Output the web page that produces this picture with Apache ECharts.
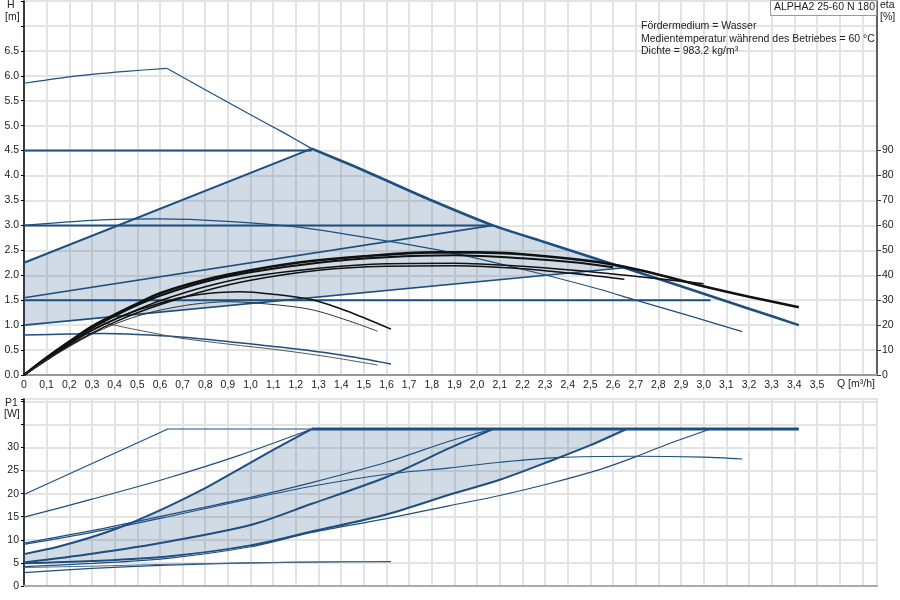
<!DOCTYPE html>
<html>
<head>
<meta charset="utf-8">
<script src="https://cdn.jsdelivr.net/npm/echarts@6/dist/echarts.min.js"></script>
<style>
html,body{margin:0;padding:0;background:#fff;}
#chart{width:900px;height:600px;}
</style>
</head>
<body>
<div id="chart"></div>
<script>
// ---------- DATA (Q in m³/h, H in m, eta in %, P1 in W) ----------
const qMax = 3.765;
const hMax = 7.5;
const etaMax = 150;
const pMax = 40.5;

const etaTickValues = [0,10,20,30,40,50,60,70,80,90];

// H curves
const maxRise  = [[0,5.85],[0.15,5.95],[0.3,6.03],[0.45,6.09],[0.63,6.15]];
const maxFall  = [[0.63,6.15],[0.8,5.72],[1.0,5.22],[1.15,4.85],[1.27,4.54]];
const maxCurveThick = [[1.27,4.54],[1.45,4.2],[1.6,3.9],[1.8,3.5],[2.07,3.0],[2.3,2.66],[2.6,2.22],[2.65,2.15],[2.9,1.78],[3.2,1.33],[3.42,1.0]];
const cp45 = [[0,4.5],[1.27,4.5]];
const cp30 = [[0,3.0],[2.07,3.0]];
const cp15 = [[0,1.5],[3.03,1.5]];
const pp1  = [[0,2.25],[1.27,4.54]];
const pp2  = [[0,1.55],[2.07,3.0]];
const pp3  = [[0,1.0],[2.65,2.15]];
const curveIII = [[0,3.0],[0.3,3.1],[0.6,3.13],[0.9,3.08],[1.22,2.96],[1.61,2.68],[1.87,2.47],[2.2,2.12],[2.54,1.72],[2.7,1.5],[2.95,1.17],[3.17,0.87]];
const lowCurveA = [[0,0.8],[0.2,0.82],[0.35,0.83],[0.5,0.81],[0.69,0.76],[0.9,0.67],[1.13,0.56],[1.4,0.4],[1.62,0.22]];
const lowCurveB = [[0.33,1.07],[0.45,0.95],[0.55,0.86],[0.69,0.74],[0.9,0.62],[1.13,0.5],[1.35,0.36],[1.56,0.2]];

// eta curves (%)
const eta1 = [[0,0],[0.1,7],[0.2,13.4],[0.3,19.5],[0.4,24.2],[0.5,28.6],[0.6,32.8],[0.8,38.2],[1.0,42],[1.22,45.2],[1.5,47.6],[1.8,49.2],[2.0,49.2],[2.2,48.4],[2.54,45.2],[2.75,41.4],[2.98,36],[3.2,31.4],[3.42,27.2]];
const eta2 = [[0,0],[0.1,6.8],[0.2,13],[0.3,18.8],[0.4,23.6],[0.5,28],[0.6,31.8],[0.8,37.4],[1.0,41.2],[1.3,45],[1.6,47.2],[1.9,48],[2.2,46.8],[2.45,45],[2.6,43.2]];
const eta3 = [[0,0],[0.1,6.4],[0.2,12.4],[0.3,17.8],[0.4,22.2],[0.5,26.2],[0.6,29.8],[0.8,35.4],[1.0,39.4],[1.3,42.8],[1.6,44.6],[1.9,44.8],[2.2,43.6],[2.5,41.4],[2.8,38.6],[3.0,36.6]];
const eta4 = [[0,0],[0.1,6.0],[0.2,11.8],[0.3,16.8],[0.4,21.2],[0.5,25],[0.6,28.2],[0.8,33.8],[1.0,38],[1.3,42],[1.6,43.6],[1.9,43.8],[2.2,42.6],[2.5,40],[2.65,38.4]];
const etaArc1 = [[0,0],[0.1,6.4],[0.2,12.4],[0.3,18],[0.4,22.4],[0.5,26],[0.6,28.8],[0.7,31.2],[0.8,32.6],[0.95,33.4],[1.1,32.4],[1.28,30],[1.45,24.8],[1.62,18.4]];
const etaArc2 = [[0,0],[0.1,6],[0.2,11.4],[0.3,16.4],[0.4,20.4],[0.5,23.6],[0.6,26],[0.75,28.4],[0.9,29.4],[1.13,28],[1.28,26],[1.45,21.2],[1.56,17.6]];

// P1 curves (W)
const p1MaxA = [[0,19.8],[0.635,34],[1.27,34]];
const p1Flat = [[1.27,34],[3.42,34]];
const p1B = [[0,14.9],[0.3,18.8],[0.635,23.4],[0.95,28.3],[1.27,34]];
const p1C = [[0,6.9],[0.15,8.5],[0.3,10.6],[0.45,13.2],[0.635,17.2],[0.8,21.2],[0.92,24.5],[1.1,29.5],[1.27,34]];
const p1D = [[0,9.3],[0.3,12],[0.635,15.4],[1.0,19.2],[1.27,22.4],[1.6,26.8],[1.88,31.4],[2.07,34]];
const p1E = [[0,9.0],[0.3,11.6],[0.635,15],[1.0,18.9],[1.27,21.6],[1.6,24.2],[1.88,25.6],[2.1,26.8],[2.35,27.8],[2.7,28.1],[3.0,27.9],[3.17,27.5]];
const p1F = [[0,5.1],[0.3,7.0],[0.635,9.6],[1.0,13.2],[1.27,17.8],[1.6,23.6],[1.88,29.9],[2.07,34]];
const p1G = [[0,4.9],[0.3,5.4],[0.635,6.4],[1.0,8.8],[1.27,11.8],[1.6,15.5],[1.88,19.8],[2.1,23],[2.34,27.4],[2.5,30.5],[2.66,34]];
const p1H = [[0,4.2],[0.3,4.9],[0.635,6.0],[1.0,8.5],[1.27,11.6],[1.6,14.6],[1.88,17.4],[2.1,19.6],[2.32,22.2],[2.54,25.2],[2.69,27.8],[2.84,30.7],[3.03,34]];
const p1Low1 = [[0,2.9],[0.3,3.8],[0.635,4.5],[1.0,5.0],[1.3,5.2],[1.62,5.3]];
const p1Low2 = [[0,4.0],[0.3,4.3],[0.635,4.7],[1.0,5.0],[1.3,5.2],[1.56,5.3]];

// shaded operating ranges, built from the curves above
const shadeTop = [pp1[0]].concat(maxCurveThick.filter(p => p[0] <= 2.65), [pp3[0]]);
const shadeBottom = p1C.concat([[2.66,34]], p1G.slice().reverse());

// ---------- STYLE ----------
const BLUE = '#1e4f80';
const BLACK = '#111111';
const GRID = '#e3e3e3';
const FONT = "'Liberation Sans', Arial, sans-serif";
const FS = 10.5;
const TXT = '#222';

function line(data, opts) {
  return {
    type: 'line',
    data: data,
    xAxisIndex: opts.x || 0,
    yAxisIndex: opts.y || 0,
    showSymbol: false,
    symbol: 'none',
    smooth: opts.smooth === undefined ? 0.3 : opts.smooth,
    silent: true,
    z: opts.z || 5,
    lineStyle: { color: opts.color || BLUE, width: opts.width || 1.2 }
  };
}

function shade(data, xi, yi) {
  return {
    type: 'custom',
    xAxisIndex: xi, yAxisIndex: yi,
    data: data,
    silent: true,
    z: 1,
    renderItem: function (params, api) {
      if (params.dataIndex !== 0) return null;
      const pts = data.map(p => api.coord(p));
      return { type: 'polygon', shape: { points: pts }, style: { fill: 'rgba(40,90,140,0.22)' } };
    }
  };
}

const chart = echarts.init(document.getElementById('chart'), null, { renderer: 'canvas' });

const fmtQ = v => (v === 0 ? '0' : (v > 3.55 ? '' : v.toFixed(1).replace('.', ',')));
const font = FS + 'px ' + FONT;

const option = {
  animation: false,
  textStyle: { fontFamily: FONT },
  grid: [
    { left: 24, right: 23, top: 1, height: 374, show: true, borderColor: '#b5b5b5', borderWidth: 1 },
    { left: 24, right: 23, top: 399, height: 187, show: true, borderColor: '#b5b5b5', borderWidth: 1.5 }
  ],
  xAxis: [
    { type: 'value', gridIndex: 0, min: 0, max: qMax, interval: 0.1,
      axisLine: { show: true, onZero: false, lineStyle: { color: '#999', width: 2 } },
      axisTick: { show: false },
      axisLabel: { formatter: fmtQ, fontSize: FS, color: TXT, margin: 5, fontFamily: FONT, hideOverlap: false },
      splitLine: { show: true, lineStyle: { color: GRID, width: 2 } } },
    { type: 'value', gridIndex: 1, min: 0, max: qMax, interval: 0.1,
      axisLine: { show: true, onZero: false, lineStyle: { color: '#aaa', width: 2 } },
      axisTick: { show: false },
      axisLabel: { show: false },
      splitLine: { show: true, lineStyle: { color: GRID, width: 2 } } }
  ],
  yAxis: [
    { type: 'value', gridIndex: 0, min: 0, max: hMax, interval: 0.5,
      axisLine: { show: true, onZero: false, lineStyle: { color: '#000', width: 1.5 } },
      axisTick: { show: true, length: 3, lineStyle: { color: '#000' } },
      axisLabel: { formatter: v => (v > 6.6 ? '' : v.toFixed(1)), fontSize: FS, color: TXT, margin: 5, fontFamily: FONT },
      splitLine: { show: true, lineStyle: { color: GRID, width: 2 } } },
    { type: 'value', gridIndex: 0, position: 'right', min: 0, max: etaMax, interval: 10,
      axisLine: { show: true, onZero: false, lineStyle: { color: '#333', width: 1.5 } },
      axisTick: { show: true, length: 4, customValues: etaTickValues, lineStyle: { color: '#333' } },
      axisLabel: { customValues: etaTickValues, formatter: v => (v > 95 ? '' : String(v)), fontSize: FS, color: TXT, margin: 5, fontFamily: FONT },
      splitLine: { show: false } },
    { type: 'value', gridIndex: 1, min: 0, max: pMax, interval: 5,
      axisLine: { show: true, onZero: false, lineStyle: { color: '#000', width: 1.5 } },
      axisTick: { show: true, length: 3, lineStyle: { color: '#000' } },
      axisLabel: { formatter: v => (v > 32 ? '' : String(v)), fontSize: FS, color: TXT, margin: 5, fontFamily: FONT },
      splitLine: { show: true, lineStyle: { color: GRID, width: 2 } } }
  ],
  series: [
    shade(shadeTop, 0, 0),
    shade(shadeBottom, 1, 2),
    // top: H curves
    line(maxRise, { width: 1.2 }),
    line(maxFall, { width: 1.2, smooth: 0.15 }),
    line(maxCurveThick, { width: 2.6, smooth: 0.2 }),
    line(cp45, { width: 2, smooth: false }),
    line(cp30, { width: 2, smooth: false }),
    line(cp15, { width: 2, smooth: false }),
    line(pp1, { width: 2, smooth: false }),
    line(pp2, { width: 1.6, smooth: false }),
    line(pp3, { width: 1.6, smooth: false }),
    line(curveIII, { width: 1.2 }),
    line(lowCurveA, { width: 1.5 }),
    line(lowCurveB, { width: 1, color: '#555' }),
    // eta curves
    line(eta1, { y: 1, width: 2.6, color: BLACK, z: 6 }),
    line(eta2, { y: 1, width: 2, color: BLACK, z: 6 }),
    line(eta3, { y: 1, width: 1.6, color: BLACK, z: 6 }),
    line(eta4, { y: 1, width: 1.6, color: BLACK, z: 6 }),
    line(etaArc1, { y: 1, width: 1.6, color: BLACK, z: 6 }),
    line(etaArc2, { y: 1, width: 1, color: '#333', z: 6 }),
    // bottom: P1 curves
    line(p1MaxA, { x: 1, y: 2, width: 1.2, smooth: false }),
    line(p1Flat, { x: 1, y: 2, width: 3, smooth: false }),
    line(p1B, { x: 1, y: 2, width: 1.2 }),
    line(p1C, { x: 1, y: 2, width: 2 }),
    line(p1D, { x: 1, y: 2, width: 1.2 }),
    line(p1E, { x: 1, y: 2, width: 1.2 }),
    line(p1F, { x: 1, y: 2, width: 2 }),
    line(p1G, { x: 1, y: 2, width: 2 }),
    line(p1H, { x: 1, y: 2, width: 1.2 }),
    line(p1Low1, { x: 1, y: 2, width: 1.2 }),
    line(p1Low2, { x: 1, y: 2, width: 1, color: '#4a6a8a' })
  ],
  graphic: [
    { type: 'text', left: 7, top: 0, style: { text: 'H', font: font, fill: TXT } },
    { type: 'text', left: 5, top: 12, style: { text: '[m]', font: font, fill: TXT } },
    { type: 'text', left: 880, top: 0, style: { text: 'eta', font: font, fill: TXT } },
    { type: 'text', left: 880, top: 12, style: { text: '[%]', font: font, fill: TXT } },
    { type: 'text', left: 5, top: 398, style: { text: 'P1', font: font, fill: TXT } },
    { type: 'text', left: 4, top: 409, style: { text: '[W]', font: font, fill: TXT } },
    { type: 'text', left: 837, top: 379, style: { text: 'Q [m³/h]', font: font, fill: TXT } },
    { type: 'rect', shape: { x: 770.5, y: 0.5, width: 106, height: 15 }, style: { fill: '#fff', stroke: '#999', lineWidth: 1 }, z: 100 },
    { type: 'text', left: 774, top: 2, z: 101, style: { text: 'ALPHA2 25-60 N 180', font: font, fill: TXT } },
    { type: 'text', left: 641, top: 21, z: 101, style: { text: 'Fördermedium = Wasser', font: font, fill: TXT } },
    { type: 'text', left: 641, top: 34, z: 101, style: { text: 'Medientemperatur während des Betriebes = 60 °C', font: font, fill: TXT } },
    { type: 'text', left: 641, top: 46, z: 101, style: { text: 'Dichte = 983.2 kg/m³', font: font, fill: TXT } }
  ]
};

chart.setOption(option);
</script>
</body>
</html>
